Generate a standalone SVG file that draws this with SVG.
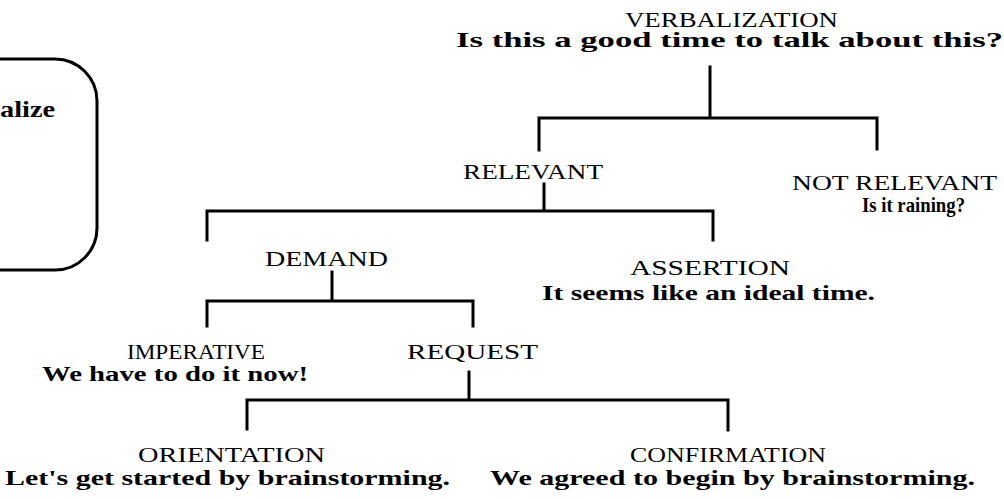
<svg xmlns="http://www.w3.org/2000/svg" width="1004" height="499" viewBox="0 0 1004 499">
<style>
.bg{fill:#fff}
.ln{fill:none;stroke:#000;stroke-width:3;stroke-linecap:square}
.h{font-family:"Liberation Serif",serif;font-size:22px;fill:#000}
.s{font-family:"Liberation Serif",serif;font-size:22px;font-weight:bold;fill:#000}
.bx{font-family:"Liberation Serif",serif;font-size:24px;font-weight:900;fill:#000}
</style>
<rect class="bg" width="1004" height="499"/>
<g id="box">
<path class="ln" d="M-5,59 H55 A42,42 0 0 1 97,101 V228 A42,42 0 0 1 55,270 H-5"/>
<text class="bx" x="0" y="117" textLength="55" lengthAdjust="spacingAndGlyphs">alize</text>
</g>
<g id="connectors">
<path class="ln" d="M710,67 V118 M539,150 V118 H877 V149"/>
<path class="ln" d="M544,184 V211 M207,240 V211 H713 V240"/>
<path class="ln" d="M332,272 V301 M207,326 V301 H473 V326"/>
<path class="ln" d="M469,372 V400 M247,429 V400 H728 V430"/>
</g>
<g id="verbalization">
<text class="h" x="625" y="27" textLength="213" lengthAdjust="spacingAndGlyphs">VERBALIZATION</text>
<text class="s" x="456" y="47" textLength="547" lengthAdjust="spacingAndGlyphs">Is this a good time to talk about this?</text>
</g>
<g id="relevant">
<text class="h" x="463" y="179" textLength="140" lengthAdjust="spacingAndGlyphs">RELEVANT</text>
</g>
<g id="not-relevant">
<text class="h" x="792" y="190" textLength="205" lengthAdjust="spacingAndGlyphs">NOT RELEVANT</text>
<text class="s" x="862" y="212" textLength="103" lengthAdjust="spacingAndGlyphs">Is it raining?</text>
</g>
<g id="demand">
<text class="h" x="265" y="266" textLength="123" lengthAdjust="spacingAndGlyphs">DEMAND</text>
</g>
<g id="assertion">
<text class="h" x="630" y="275" textLength="160" lengthAdjust="spacingAndGlyphs">ASSERTION</text>
<text class="s" x="542" y="300" textLength="333" lengthAdjust="spacingAndGlyphs">It seems like an ideal time.</text>
</g>
<g id="imperative">
<text class="h" x="127" y="359" textLength="138" lengthAdjust="spacingAndGlyphs">IMPERATIVE</text>
<text class="s" x="42" y="381" textLength="266" lengthAdjust="spacingAndGlyphs">We have to do it now!</text>
</g>
<g id="request">
<text class="h" x="407" y="359" textLength="131" lengthAdjust="spacingAndGlyphs">REQUEST</text>
</g>
<g id="orientation">
<text class="h" x="138" y="462" textLength="187" lengthAdjust="spacingAndGlyphs">ORIENTATION</text>
<text class="s" x="5" y="485" textLength="445" lengthAdjust="spacingAndGlyphs">Let's get started by brainstorming.</text>
</g>
<g id="confirmation">
<text class="h" x="630" y="462" textLength="196" lengthAdjust="spacingAndGlyphs">CONFIRMATION</text>
<text class="s" x="490" y="485" textLength="485" lengthAdjust="spacingAndGlyphs">We agreed to begin by brainstorming.</text>
</g>
</svg>
